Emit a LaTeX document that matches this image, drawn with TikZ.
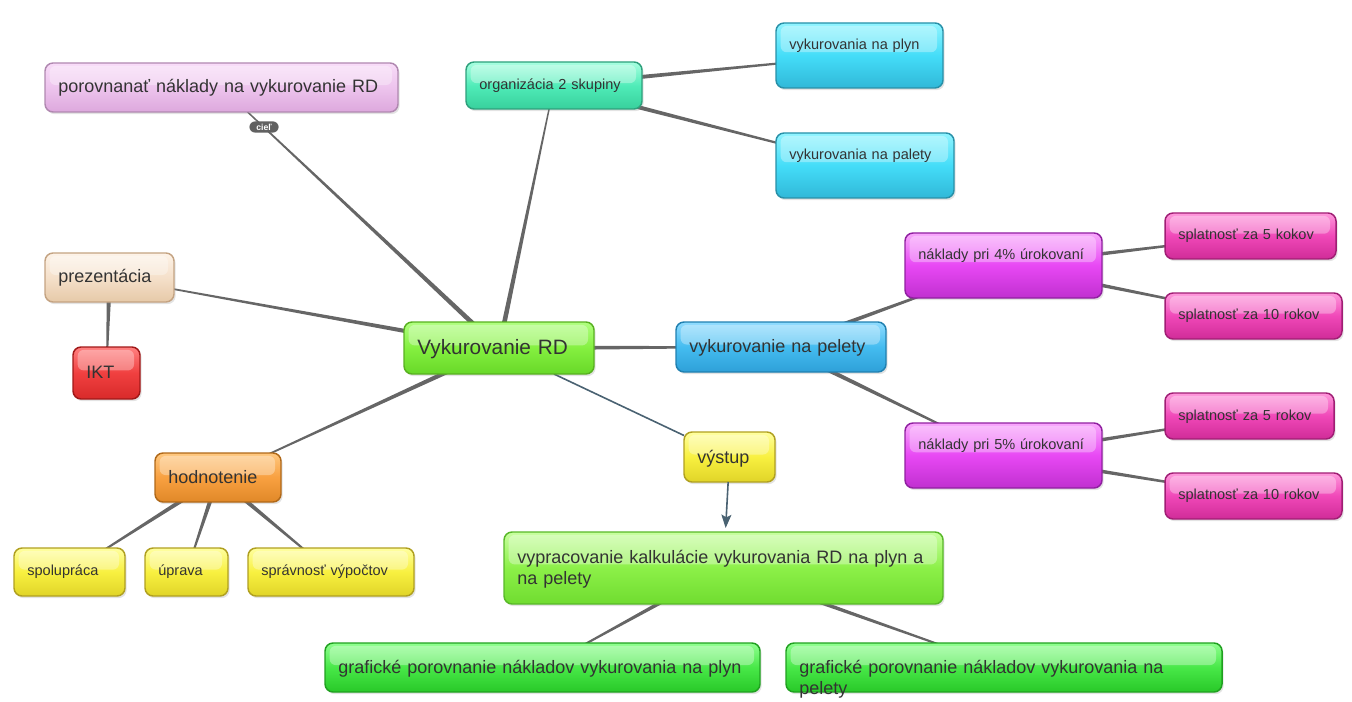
\documentclass[tikz,border=0pt]{standalone}
\usepackage{fontspec}
\setmainfont{Liberation Sans}
\usetikzlibrary{calc,shadows,arrows.meta}
\pgfdeclarelayer{bg}\pgfsetlayers{bg,main}
\definecolor{txt}{HTML}{333333}
\definecolor{conn}{HTML}{666666}
\definecolor{blueln}{HTML}{4A6272}
\definecolor{lavT}{HTML}{F8DCF8}\definecolor{lavM}{HTML}{EDC4ED}\definecolor{lavB}{HTML}{DDA8DD}\definecolor{lavD}{HTML}{B088B0}
\definecolor{tealT}{HTML}{A8FFE0}\definecolor{tealM}{HTML}{50ECB8}\definecolor{tealB}{HTML}{38D09C}\definecolor{tealD}{HTML}{2EA07C}
\definecolor{cyanT}{HTML}{90F4FF}\definecolor{cyanM}{HTML}{44DDF8}\definecolor{cyanB}{HTML}{30B8D8}\definecolor{cyanD}{HTML}{2890A8}
\definecolor{beigeT}{HTML}{FDF3E8}\definecolor{beigeM}{HTML}{F5E0CA}\definecolor{beigeB}{HTML}{E6C9A8}\definecolor{beigeD}{HTML}{C4A382}
\definecolor{redT}{HTML}{FF8080}\definecolor{redM}{HTML}{F04040}\definecolor{redB}{HTML}{D82A2A}\definecolor{redD}{HTML}{A01818}
\definecolor{grnT}{HTML}{B0FF80}\definecolor{grnM}{HTML}{84F040}\definecolor{grnB}{HTML}{68D828}\definecolor{grnD}{HTML}{58B020}
\definecolor{bluT}{HTML}{90DCFF}\definecolor{bluM}{HTML}{44BCF0}\definecolor{bluB}{HTML}{2EA0D8}\definecolor{bluD}{HTML}{2080B0}
\definecolor{magT}{HTML}{F8A8FC}\definecolor{magM}{HTML}{E848F4}\definecolor{magB}{HTML}{C030D0}\definecolor{magD}{HTML}{9020A0}
\definecolor{pnkT}{HTML}{FF98DC}\definecolor{pnkM}{HTML}{F048B8}\definecolor{pnkB}{HTML}{D02C98}\definecolor{pnkD}{HTML}{A01E74}
\definecolor{yelT}{HTML}{FFFFA0}\definecolor{yelM}{HTML}{F8F040}\definecolor{yelB}{HTML}{E0D428}\definecolor{yelD}{HTML}{B0A020}
\definecolor{orgT}{HTML}{FFC880}\definecolor{orgM}{HTML}{F8A040}\definecolor{orgB}{HTML}{E08828}\definecolor{orgD}{HTML}{B06818}
\definecolor{lgrT}{HTML}{C8FFA0}\definecolor{lgrM}{HTML}{8CF048}\definecolor{lgrB}{HTML}{70DC30}\definecolor{lgrD}{HTML}{58B828}
\definecolor{g2T}{HTML}{90FF90}\definecolor{g2M}{HTML}{48E848}\definecolor{g2B}{HTML}{28C828}\definecolor{g2D}{HTML}{20A020}
\tikzset{
  box/.style={rectangle, rounded corners=6pt, inner xsep=0pt, inner ysep=0pt, outer sep=0pt,
    line width=1.1pt, align=left, text=txt,
    drop shadow={opacity=0.22, shadow xshift=1.2pt, shadow yshift=-1.6pt},
    path picture={\fill[white, opacity=0.32, rounded corners=4.5pt]
      ([xshift=3.5pt,yshift=-2.2pt]path picture bounding box.north west) rectangle
      ($(path picture bounding box.north east)!0.45!(path picture bounding box.south east)+(-4.5pt,0)$);}},
  fsmall/.style={font=\fontsize{10.9}{13}\selectfont},
  fmed/.style={font=\fontsize{13.5}{15.75}\selectfont},
  flarge/.style={font=\fontsize{15.6}{18}\selectfont},
  shade3/.style n args={4}{draw=#4, top color=#1, bottom color=#3, middle color=#2},
  lav/.style={shade3={lavT}{lavM}{lavB}{lavD}},
  teal/.style={shade3={tealT}{tealM}{tealB}{tealD}},
  cyanbox/.style={shade3={cyanT}{cyanM}{cyanB}{cyanD}},
  beige/.style={shade3={beigeT}{beigeM}{beigeB}{beigeD}},
  redbox/.style={shade3={redT}{redM}{redB}{redD}},
  grn/.style={shade3={grnT}{grnM}{grnB}{grnD}},
  blu/.style={shade3={bluT}{bluM}{bluB}{bluD}},
  mag/.style={shade3={magT}{magM}{magB}{magD}},
  pnk/.style={shade3={pnkT}{pnkM}{pnkB}{pnkD}},
  yel/.style={shade3={yelT}{yelM}{yelB}{yelD}},
  orng/.style={shade3={orgT}{orgM}{orgB}{orgD}},
  lgr/.style={shade3={lgrT}{lgrM}{lgrB}{lgrD}},
  gtwo/.style={shade3={g2T}{g2M}{g2B}{g2D}},
  blueline/.style={draw=blueln, line width=1.2pt},
  cieltag/.style={rectangle, rounded corners=4.5pt, fill=conn!95!black, text=white,
    minimum width=22pt, minimum height=8.5pt, inner sep=0pt,
    font=\fontsize{6.5}{7}\selectfont\bfseries}
}
% name, x1, y1, x2, y2, baseline from top (px), style, text
\newcommand\mmnode[8]{%
  \pgfmathsetmacro\mmw{((#4)-(#2))*0.75}%
  \pgfmathsetmacro\mmth{(#6)*0.75}%
  \pgfmathsetmacro\mmtd{((#5)-(#3)-(#6))*0.75}%
  \node[box,#7,text width=\mmw pt,text height=\mmth pt,text depth=\mmtd pt]
    (#1) at ({((#2)+(#4))/2},{((#3)+(#5))/2}) {\leftskip=10pt\relax #8\par};}
% tapered connector: parent, child
\newcommand\taper[2]{%
  \fill[conn] ($(#1)!1.9pt!90:(#2)$) -- ($(#2)!0.4pt!-90:(#1)$)
    -- ($(#2)!0.4pt!90:(#1)$) -- ($(#1)!1.9pt!-90:(#2)$) -- cycle;}
\begin{document}
\begin{tikzpicture}[x=0.75pt,y=-0.75pt]
\useasboundingbox (0,0) rectangle (1352,702);
\mmnode{por}{45}{63}{398}{112}{29.5}{lav,fmed}{porovnanať náklady na vykurovanie RD}
\mmnode{org}{466}{62}{642}{109}{27.5}{teal,fsmall}{organizácia 2 skupiny}
\mmnode{plyn}{776}{23}{943}{88}{26.5}{cyanbox,fsmall}{vykurovania na plyn}
\mmnode{pal}{776}{133}{954}{198}{27}{cyanbox,fsmall}{vykurovania na palety}
\mmnode{prez}{45}{253}{174}{302}{29.3}{beige,fmed}{prezentácia}
\mmnode{ikt}{73}{347}{140}{399}{31.3}{redbox,fmed}{IKT}
\mmnode{c}{404}{322}{594}{374}{32.3}{grn,flarge}{Vykurovanie RD}
\mmnode{pel}{676}{322}{886}{372}{30.7}{blu,fmed}{vykurovanie na pelety}
\mmnode{nfour}{905}{233}{1102}{298}{26.7}{mag,fsmall}{náklady pri 4\% úrokovaní}
\mmnode{sa}{1165}{213}{1336}{259}{26.7}{pnk,fsmall}{splatnosť za 5 kokov}
\mmnode{sb}{1165}{293}{1342}{339}{26.7}{pnk,fsmall}{splatnosť za 10 rokov}
\mmnode{nfive}{905}{423}{1102}{488}{26.7}{mag,fsmall}{náklady pri 5\% úrokovaní}
\mmnode{sc}{1165}{393}{1334}{439}{27}{pnk,fsmall}{splatnosť za 5 rokov}
\mmnode{sd}{1165}{473}{1342}{519}{26.7}{pnk,fsmall}{splatnosť za 10 rokov}
\mmnode{vys}{684}{432}{775}{482}{31}{yel,fmed}{výstup}
\mmnode{hod}{155}{453}{281}{502}{30}{orng,fmed}{hodnotenie}
\mmnode{spol}{14}{548}{125}{596}{27.7}{yel,fsmall}{spolupráca}
\mmnode{upr}{145}{548}{228}{596}{27.7}{yel,fsmall}{úprava}
\mmnode{spr}{248}{548}{414}{596}{27.7}{yel,fsmall}{správnosť výpočtov}
\mmnode{vyp}{504}{532}{943}{604}{31}{lgr,fmed}{vypracovanie kalkulácie vykurovania RD na plyn a\\na pelety}
\mmnode{gone}{325}{643}{760}{692}{30.7}{gtwo,fmed}{grafické porovnanie nákladov vykurovania na plyn}
\mmnode{gtwo}{786}{643}{1222}{692}{30.7}{gtwo,fmed}{grafické porovnanie nákladov vykurovania na\\pelety}
\node[cieltag] (ciel) at (264,127) {cieľ};
\begin{pgfonlayer}{bg}
\taper{c}{por}
\taper{c}{org}
\taper{c}{prez}
\taper{c}{hod}
\taper{c}{pel}
\taper{org}{plyn}
\taper{org}{pal}
\taper{pel}{nfour}
\taper{pel}{nfive}
\taper{nfour}{sa}
\taper{nfour}{sb}
\taper{nfive}{sc}
\taper{nfive}{sd}
\taper{prez}{ikt}
\taper{hod}{spol}
\taper{hod}{upr}
\taper{hod}{spr}
\taper{vyp}{gone}
\taper{vyp}{gtwo}
\draw[blueline] (c) -- (vys);
\end{pgfonlayer}
\draw[blueline, -{Stealth[length=10pt,width=7.5pt,inset=2pt]}, shorten >=3pt] (vys) -- (vyp);
\end{tikzpicture}
\end{document}
